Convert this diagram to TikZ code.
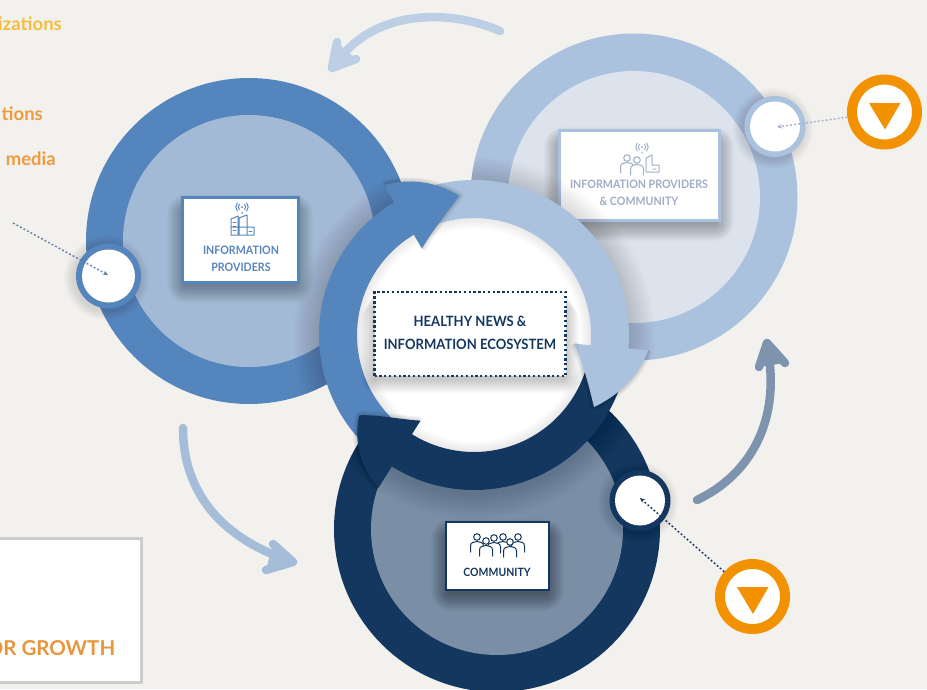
\documentclass[tikz,border=0pt]{standalone}
\usepackage{fontspec}
\setmainfont{Lato}[FakeStretch=0.92]
\newfontfamily\sidefont{Lato}
\usetikzlibrary{arrows.meta}
\definecolor{bgc}{HTML}{F3F1EE}
\definecolor{blueA}{HTML}{5585BD}
\definecolor{blueB}{HTML}{A3BAD6}
\definecolor{ltA}{HTML}{ABC2DE}
\definecolor{ltB}{HTML}{DCE3ED}
\definecolor{navyA}{HTML}{13375F}
\definecolor{navyB}{HTML}{7A8EA6}
\definecolor{orangeA}{HTML}{F39200}
\definecolor{yellowT}{HTML}{F4BE3A}
\definecolor{orangeT}{HTML}{EE9B3E}
\definecolor{growT}{HTML}{E8963C}
\definecolor{grayT}{HTML}{9FAEC5}
\definecolor{arrowA}{HTML}{BDCFE5}
\definecolor{arrowB}{HTML}{A6BDDA}
\definecolor{arrowC}{HTML}{7E94AE}
\definecolor{dotA}{HTML}{5F7EA8}
\definecolor{dotB}{HTML}{A5B0C5}
\tikzset{
  lbl/.style={font=\fontsize{#1}{17}\selectfont\bfseries,align=center,inner sep=0pt},
  sidetext/.style={font=\sidefont\fontsize{18.5}{20}\selectfont\bfseries,anchor=east,inner sep=0pt},
  bigdot/.style={circle,fill=white,inner sep=0pt,minimum size=#1},
  orangedot/.style={circle,draw=orangeA,line width=10pt,fill=white,inner sep=0pt,minimum size=65pt},
  bigarrow/.style={line width=8.5pt,line cap=round,line join=round},
  dotted line/.style={line width=1.4pt,dash pattern=on 1.9pt off 2.1pt,-{Stealth[length=5pt,width=4.5pt]}},
  iconline/.style={line width=1pt,line join=round,line cap=round},
}
% soft shadow of a rectangle
\newcommand\boxshade[5]{%
  \foreach \i in {1,...,20}{%
    \fill[black,opacity=#5,rounded corners=\i pt] (#1-\i*.9+4,#2-\i*.9+16) rectangle (#3+\i*.9-4,#4+\i*.9+2);
  }}
\newcommand\dotshade[3]{%
  \foreach \i in {1,...,10}{%
    \fill[black,opacity=.012] (#1-2,#2+2) circle ({#3+\i});
  }}
% arrow head of the ring: colour, base angle, tip offset, outer barb radius
\newcommand\ringhead[4]{%
  \foreach \i in {2,5,8}{%
  \draw[black,opacity=.05,line width=\i pt,line join=round] (#2-1:#4) .. controls ({#2+10}:#4-6) and ({#2+18}:153) .. ({#2+#3}:140) .. controls ({#2+18}:126) and ({#2+8}:112) .. (#2-1:101);}
  \fill[#1] (#2-1:152) -- (#2-1:#4) .. controls ({#2+10}:#4-6) and ({#2+18}:153) .. ({#2+#3}:140) .. controls ({#2+18}:126) and ({#2+8}:112) .. (#2-1:101) -- (#2-1:119) -- cycle;}
\newcommand\person[3]{%
  \draw[iconline,#3,fill=white] (#1-6.5,#2+15) -- (#1-6.5,#2+9) .. controls (#1-6.5,#2+5.5) and (#1-3,#2+4.5) .. (#1,#2+4.5) .. controls (#1+3,#2+4.5) and (#1+6.5,#2+5.5) .. (#1+6.5,#2+9) -- (#1+6.5,#2+15);
  \draw[iconline,#3,fill=white] (#1,#2) circle (3.3);}
\newcommand\antenna[3]{%
  \fill[#3] (#1,#2) circle (1);
  \draw[iconline,#3] (#1-2.6,#2+2.6) arc (135:225:3.7) (#1+2.6,#2+2.6) arc (45:-45:3.7)
     (#1-4.75,#2+4) arc (140:220:6.2) (#1+4.75,#2+4) arc (40:-40:6.2) (#1,#2+5) -- (#1,#2+6.5);}
\begin{document}
\begin{tikzpicture}[x=1pt,y=1pt,yscale=-1]
\path[use as bounding box] (0,0) rectangle (927,689);
\clip (0,0) rectangle (927,689);
\fill[bgc] (0,0) rectangle (927,689);

% large circles
\fill[blueA] (249,241) circle (163);
\fill[blueB] (249,241) circle (126);
\fill[ltA] (634,197) circle (163.5);
\fill[ltB] (634,197) circle (126);
\fill[navyA] (497,529) circle (163);
\fill[navyB] (497,529) circle (126);

% side texts
\node[sidetext,text=yellowT] (t1) at (62,24) {izations};
\node[sidetext,text=orangeT] (t2) at (43,114) {tions};
\node[sidetext,text=orangeT] (t3) at (56,159) {media};

% cards
\boxshade{181}{196}{299}{283}{.016}
\node[draw=blueA,line width=3pt,fill=white,minimum width=116pt,minimum height=85pt,inner sep=0pt] (boxA) at (240,239.5) {};
\boxshade{558}{129}{720}{221}{.016}
\node[draw=ltA,line width=3pt,fill=white,minimum width=160pt,minimum height=90pt,inner sep=0pt] (boxB) at (639,175) {};
\boxshade{445}{521}{550}{591}{.02}
\node[draw=navyA,line width=2.6pt,fill=white,minimum width=103pt,minimum height=68pt,inner sep=0pt] (boxC) at (497.5,556) {};

\node[lbl=11.6,text=blueA] (txtA) at (241,258.5) {INFORMATION\\PROVIDERS};
\node[lbl=11.6,text=grayT] (txtB) at (639,192.5) {INFORMATION PROVIDERS\\\& COMMUNITY};
\node[lbl=11.4,text=navyA] (txtC) at (497,572) {COMMUNITY};

% icon: information providers
\antenna{242}{207}{blueA}
\draw[iconline,blueA] (231,235) rectangle (254,227)
  (231,235) -- (231,219) -- (238,216) -- (238,235)
  (239,235) -- (239,218) -- (247,215) -- (247,235);
\draw[iconline,blueA] (233,222) -- (236,222) (233,226) -- (236,226) (233,230) -- (236,230) (249,231) -- (252,231);
% icon: providers and community
\antenna{642}{147}{grayT}
\person{627}{158}{grayT}
\person{637}{160}{grayT}
\draw[iconline,grayT] (646,172) -- (646,158) -- (652,155) -- (652,165) -- (659,165) -- (659,172) -- cycle (653,169) -- (656,169);
% icon: community
\person{477}{537}{navyA}
\person{503}{537}{navyA}
\person{518}{537}{navyA}
\person{494}{538}{navyA}
\person{486}{541}{navyA}
\person{510}{542}{navyA}

% outer shadow of the ring on the three circles
\foreach \cx/\cy/\cr in {249/241/163,634/197/163.5,497/529/163}{
  \begin{scope}
    \clip (\cx,\cy) circle (\cr);
    \foreach \i in {2,4,...,26}{\fill[black,opacity=.011] (474,338) circle ({155+\i});}
  \end{scope}}

% centre disc and ring
\fill[white] (474,335) circle (130);
\begin{scope}
  \clip (474,335) circle (118);
  \foreach \i in {2,4,...,24}{\draw[black,opacity=.009,line width=\i pt] (474,335) circle (118);}
\end{scope}
\begin{scope}[shift={(474,335)}]
  \fill[navyA] (12:155) arc (12:124:155) -- (124:117) arc (124:12:117) -- cycle;
  \fill[blueA] (128:155) arc (128:244:155) -- (244:117) arc (244:128:117) -- cycle;
  \fill[ltA] (244:155) arc (244:369:155) -- (9:117) arc (369:244:117) -- cycle;
  \ringhead{ltA}{6}{25}{175}
  \ringhead{navyA}{123}{22}{180}
  \ringhead{blueA}{240}{24}{175}
\end{scope}

% centre card
\foreach \i in {1,...,14}{\fill[black,opacity=.014,rounded corners=\i pt] (374-\i+1,292+\i) rectangle (566+\i-1,376+\i+3);}
\node[draw=navyA,line width=2.3pt,dash pattern=on 2.3pt off 2.5pt,fill=white,minimum width=191pt,minimum height=84pt,inner sep=0pt] (boxD) at (470,334) {};
\node[text=navyA,font=\fontsize{14.2}{23}\selectfont\bfseries,align=center,inner sep=0pt] (txtD) at (470,332.5) {HEALTHY NEWS \&\\INFORMATION ECOSYSTEM};

% small dots
\dotshade{108.5}{276}{32.5}
\fill[blueA] (108.5,276) circle (32.5);
\node[bigdot=53pt] (dotA) at (108.5,276) {};
\dotshade{775}{126.5}{30.5}
\fill[ltA] (775,126.5) circle (30.5);
\node[bigdot=50pt] (dotB) at (775,126.5) {};
\dotshade{640}{500.5}{30.5}
\fill[navyA] (640,500.5) circle (30.5);
\node[bigdot=50pt] (dotC) at (640,500.5) {};

% orange badges
\node[orangedot] (badgeB) at (884.5,112) {};
\fill[orangeA] (869,103) -- (900.5,103) -- (885,129.5) -- cycle;
\node[orangedot] (badgeC) at (752.5,596.5) {};
\fill[orangeA] (737,587) -- (768.5,587) -- (753,614) -- cycle;

% dotted connectors
\coordinate (freeA) at (13,223);
\coordinate (endA) at (108,275);
\coordinate (endB) at (777,127);
\coordinate (endC) at (640,498);
\draw[dotted line,draw=dotA] (freeA) -- (endA);
\draw[dotted line,draw=dotB] (badgeB) -- (endB);
\draw[dotted line,draw=navyA] (badgeC) -- (endC);

% large curved arrows
\draw[bigarrow,arrowA] (500,31) .. controls (455,11) and (375,5) .. (334,66);
\draw[bigarrow,arrowA,fill=arrowA] (337,42) -- (332,68) -- (356,59);
\draw[bigarrow,arrowB] (183,428) .. controls (183,495) and (225,540) .. (291,561);
\draw[bigarrow,arrowB,fill=arrowB] (273,544) -- (293,562) -- (266,570);
\draw[bigarrow,arrowC] (697,500) .. controls (750,475) and (782,420) .. (767,346);
\draw[bigarrow,arrowC,fill=arrowC] (759,367) -- (767,343) -- (785,363);

% bottom left card
\node[draw=black!20,line width=2.8pt,fill=white,anchor=north east,minimum width=160pt,minimum height=144pt,inner sep=0pt] (boxE) at (143,537) {};
\node[font=\sidefont\fontsize{20.5}{24}\selectfont\bfseries,text=growT,anchor=east,inner sep=0pt] (growth) at (115.5,648) {OR GROWTH};
\end{tikzpicture}
\end{document}
